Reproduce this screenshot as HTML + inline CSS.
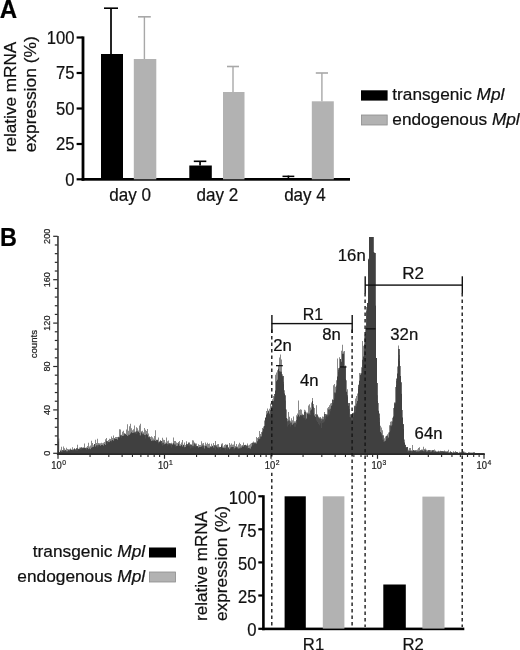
<!DOCTYPE html>
<html><head><meta charset="utf-8"><title>Figure</title>
<style>
html,body{margin:0;padding:0;background:#fff;}
body{width:520px;height:650px;overflow:hidden;font-family:"Liberation Sans",sans-serif;}
svg{display:block;will-change:transform;transform:translateZ(0);}
</style></head><body>
<svg width="520" height="650" viewBox="0 0 520 650" font-family="Liberation Sans, sans-serif" fill="#111">
<rect width="520" height="650" fill="#fff"/>
<text transform="translate(-0.2,18) scale(0.94,1)" font-size="25.6" text-anchor="start" fill="#000" stroke="#000" stroke-width="0.22" font-weight="bold">A</text>
<g fill="#000">
<rect x="81.6" y="36.4" width="2.8" height="144.3"/>
<rect x="81.6" y="178" width="268.4" height="2.7"/>
<rect x="76.6" y="36.4" width="6" height="2.2"/>
<rect x="76.6" y="71.9" width="6" height="2.2"/>
<rect x="76.6" y="107.4" width="6" height="2.2"/>
<rect x="76.6" y="142.9" width="6" height="2.2"/>
<rect x="76.6" y="178.20000000000002" width="6" height="2.2"/>
</g>
<text transform="translate(74.4,43.8) scale(0.925,1)" font-size="18" text-anchor="end" fill="#111" stroke="#111" stroke-width="0.22" >100</text>
<text transform="translate(74.4,79.3) scale(0.925,1)" font-size="18" text-anchor="end" fill="#111" stroke="#111" stroke-width="0.22" >75</text>
<text transform="translate(74.4,114.8) scale(0.925,1)" font-size="18" text-anchor="end" fill="#111" stroke="#111" stroke-width="0.22" >50</text>
<text transform="translate(74.4,150.3) scale(0.925,1)" font-size="18" text-anchor="end" fill="#111" stroke="#111" stroke-width="0.22" >25</text>
<text transform="translate(74.4,185.70000000000002) scale(0.925,1)" font-size="18" text-anchor="end" fill="#111" stroke="#111" stroke-width="0.22" >0</text>
<text transform="translate(16.2,152.3) rotate(-90) scale(0.987,1)" font-size="17.4" text-anchor="start" fill="#111" stroke="#111" stroke-width="0.22" >relative mRNA</text>
<text transform="translate(36.2,152.3) rotate(-90)" font-size="17.4" text-anchor="start" fill="#111" stroke="#111" stroke-width="0.22" >expression (%)</text>
<rect x="101" y="54" width="22" height="125.30000000000001" fill="#000"/>
<rect x="110.15" y="8.2" width="1.7" height="45.8" fill="#000"/>
<rect x="104" y="7.3999999999999995" width="14" height="1.6" fill="#000"/>
<rect x="133.8" y="59" width="22.5" height="120.30000000000001" fill="#b2b2b2"/>
<rect x="143.70000000000002" y="16.8" width="1.4" height="42.2" fill="#a8a8a8"/>
<rect x="138" y="16.0" width="12.800000000000011" height="1.6" fill="#a8a8a8"/>
<rect x="189.3" y="165.5" width="22.5" height="13.800000000000011" fill="#000"/>
<rect x="199.20000000000002" y="161.3" width="1.7" height="4.199999999999989" fill="#000"/>
<rect x="193.8" y="160.5" width="12.5" height="1.6" fill="#000"/>
<rect x="223" y="92" width="21.5" height="87.30000000000001" fill="#b2b2b2"/>
<rect x="232.3" y="66.5" width="1.4" height="25.5" fill="#a8a8a8"/>
<rect x="227" y="65.7" width="12" height="1.6" fill="#a8a8a8"/>
<rect x="311.8" y="101.3" width="22.0" height="78.00000000000001" fill="#b2b2b2"/>
<rect x="321.2" y="73" width="1.4" height="28.299999999999997" fill="#a8a8a8"/>
<rect x="315.8" y="72.2" width="12.199999999999989" height="1.6" fill="#a8a8a8"/>
<rect x="282.5" y="175.6" width="11.8" height="1.5" fill="#000"/>
<rect x="287.6" y="175.6" width="1.6" height="3" fill="#000"/>
<text transform="translate(130.1,200.8) scale(0.975,1)" font-size="17.5" text-anchor="middle" fill="#111" stroke="#111" stroke-width="0.22" >day 0</text>
<text transform="translate(217.3,200.8) scale(0.975,1)" font-size="17.5" text-anchor="middle" fill="#111" stroke="#111" stroke-width="0.22" >day 2</text>
<text transform="translate(305,200.8) scale(0.975,1)" font-size="17.5" text-anchor="middle" fill="#111" stroke="#111" stroke-width="0.22" >day 4</text>
<rect x="361" y="90.3" width="26.6" height="10.3" fill="#000"/>
<rect x="361.4" y="115" width="25.8" height="10" fill="#b2b2b2" stroke="#8c8c8c" stroke-width="0.8"/>
<text transform="translate(392.3,99.9) scale(1.045,1)" font-size="16.5" text-anchor="start" fill="#111" stroke="#111" stroke-width="0.22" >transgenic <tspan font-style="italic">Mpl</tspan></text>
<text transform="translate(392.3,124.9) scale(1.045,1)" font-size="16.5" text-anchor="start" fill="#111" stroke="#111" stroke-width="0.22" >endogenous <tspan font-style="italic">Mpl</tspan></text>
<text transform="translate(0.0,245.6) scale(0.9,1)" font-size="26" text-anchor="start" fill="#000" stroke="#000" stroke-width="0.22" font-weight="bold">B</text>
<path d="M58,454.0 L58.0,441.5L59.0,441.5 L59.0,452.5L60.0,452.5 L60.0,449.7L61.0,449.7 L61.0,446.7L62.0,446.7 L62.0,450.1L63.0,450.1 L63.0,446.4L64.0,446.4 L64.0,448.3L65.0,448.3 L65.0,449.8L66.0,449.8 L66.0,447.7L67.0,447.7 L67.0,449.1L68.0,449.1 L68.0,449.2L69.0,449.2 L69.0,449.3L70.0,449.3 L70.0,448.4L71.0,448.4 L71.0,449.4L72.0,449.4 L72.0,447.3L73.0,447.3 L73.0,448.9L74.0,448.9 L74.0,448.2L75.0,448.2 L75.0,449.3L76.0,449.3 L76.0,448.4L77.0,448.4 L77.0,444.7L78.0,444.7 L78.0,448.8L79.0,448.8 L79.0,447.5L80.0,447.5 L80.0,448.2L81.0,448.2 L81.0,447.3L82.0,447.3 L82.0,447.4L83.0,447.4 L83.0,447.3L84.0,447.3 L84.0,443.5L85.0,443.5 L85.0,447.7L86.0,447.7 L86.0,447.2L87.0,447.2 L87.0,445.9L88.0,445.9 L88.0,442.7L89.0,442.7 L89.0,446.6L90.0,446.6 L90.0,445.5L91.0,445.5 L91.0,440.8L92.0,440.8 L92.0,442.9L93.0,442.9 L93.0,445.2L94.0,445.2 L94.0,444.2L95.0,444.2 L95.0,439.8L96.0,439.8 L96.0,442.9L97.0,442.9 L97.0,438.8L98.0,438.8 L98.0,443.1L99.0,443.1 L99.0,443.2L100.0,443.2 L100.0,443.3L101.0,443.3 L101.0,442.8L102.0,442.8 L102.0,443.2L103.0,443.2 L103.0,442.7L104.0,442.7 L104.0,442.1L105.0,442.1 L105.0,439.2L106.0,439.2 L106.0,438.0L107.0,438.0 L107.0,441.9L108.0,441.9 L108.0,440.1L109.0,440.1 L109.0,438.7L110.0,438.7 L110.0,439.0L111.0,439.0 L111.0,436.6L112.0,436.6 L112.0,438.0L113.0,438.0 L113.0,435.5L114.0,435.5 L114.0,438.2L115.0,438.2 L115.0,436.9L116.0,436.9 L116.0,436.9L117.0,436.9 L117.0,437.1L118.0,437.1 L118.0,436.8L119.0,436.8 L119.0,429.3L120.0,429.3 L120.0,429.4L121.0,429.4 L121.0,434.7L122.0,434.7 L122.0,431.7L123.0,431.7 L123.0,430.8L124.0,430.8 L124.0,432.9L125.0,432.9 L125.0,433.7L126.0,433.7 L126.0,429.4L127.0,429.4 L127.0,424.2L128.0,424.2 L128.0,430.7L129.0,430.7 L129.0,426.2L130.0,426.2 L130.0,423.8L131.0,423.8 L131.0,428.3L132.0,428.3 L132.0,430.3L133.0,430.3 L133.0,429.3L134.0,429.3 L134.0,425.6L135.0,425.6 L135.0,431.4L136.0,431.4 L136.0,427.2L137.0,427.2 L137.0,428.3L138.0,428.3 L138.0,430.4L139.0,430.4 L139.0,425.4L140.0,425.4 L140.0,423.8L141.0,423.8 L141.0,431.2L142.0,431.2 L142.0,430.7L143.0,430.7 L143.0,432.2L144.0,432.2 L144.0,428.1L145.0,428.1 L145.0,429.7L146.0,429.7 L146.0,431.1L147.0,431.1 L147.0,429.1L148.0,429.1 L148.0,433.6L149.0,433.6 L149.0,436.3L150.0,436.3 L150.0,436.9L151.0,436.9 L151.0,436.3L152.0,436.3 L152.0,437.2L153.0,437.2 L153.0,438.5L154.0,438.5 L154.0,435.9L155.0,435.9 L155.0,430.3L156.0,430.3 L156.0,440.2L157.0,440.2 L157.0,440.1L158.0,440.1 L158.0,437.4L159.0,437.4 L159.0,441.3L160.0,441.3 L160.0,440.0L161.0,440.0 L161.0,440.9L162.0,440.9 L162.0,437.8L163.0,437.8 L163.0,439.7L164.0,439.7 L164.0,440.1L165.0,440.1 L165.0,442.4L166.0,442.4 L166.0,437.4L167.0,437.4 L167.0,441.3L168.0,441.3 L168.0,440.4L169.0,440.4 L169.0,443.1L170.0,443.1 L170.0,443.1L171.0,443.1 L171.0,442.8L172.0,442.8 L172.0,443.4L173.0,443.4 L173.0,437.6L174.0,437.6 L174.0,441.1L175.0,441.1 L175.0,441.1L176.0,441.1 L176.0,442.4L177.0,442.4 L177.0,443.0L178.0,443.0 L178.0,441.9L179.0,441.9 L179.0,441.0L180.0,441.0 L180.0,444.3L181.0,444.3 L181.0,442.4L182.0,442.4 L182.0,440.1L183.0,440.1 L183.0,445.3L184.0,445.3 L184.0,442.5L185.0,442.5 L185.0,445.0L186.0,445.0 L186.0,441.3L187.0,441.3 L187.0,445.2L188.0,445.2 L188.0,443.4L189.0,443.4 L189.0,445.3L190.0,445.3 L190.0,444.4L191.0,444.4 L191.0,444.9L192.0,444.9 L192.0,440.3L193.0,440.3 L193.0,440.5L194.0,440.5 L194.0,442.4L195.0,442.4 L195.0,445.0L196.0,445.0 L196.0,443.6L197.0,443.6 L197.0,446.0L198.0,446.0 L198.0,444.3L199.0,444.3 L199.0,445.0L200.0,445.0 L200.0,445.1L201.0,445.1 L201.0,441.3L202.0,441.3 L202.0,443.4L203.0,443.4 L203.0,442.9L204.0,442.9 L204.0,445.6L205.0,445.6 L205.0,442.5L206.0,442.5 L206.0,444.2L207.0,444.2 L207.0,442.8L208.0,442.8 L208.0,443.9L209.0,443.9 L209.0,443.5L210.0,443.5 L210.0,445.9L211.0,445.9 L211.0,443.7L212.0,443.7 L212.0,446.0L213.0,446.0 L213.0,442.9L214.0,442.9 L214.0,445.0L215.0,445.0 L215.0,441.0L216.0,441.0 L216.0,444.9L217.0,444.9 L217.0,444.3L218.0,444.3 L218.0,444.0L219.0,444.0 L219.0,446.8L220.0,446.8 L220.0,447.1L221.0,447.1 L221.0,443.8L222.0,443.8 L222.0,443.2L223.0,443.2 L223.0,446.4L224.0,446.4 L224.0,445.1L225.0,445.1 L225.0,444.3L226.0,444.3 L226.0,445.6L227.0,445.6 L227.0,444.7L228.0,444.7 L228.0,447.0L229.0,447.0 L229.0,443.0L230.0,443.0 L230.0,444.7L231.0,444.7 L231.0,443.6L232.0,443.6 L232.0,444.8L233.0,444.8 L233.0,444.5L234.0,444.5 L234.0,441.3L235.0,441.3 L235.0,446.1L236.0,446.1 L236.0,444.0L237.0,444.0 L237.0,446.5L238.0,446.5 L238.0,444.4L239.0,444.4 L239.0,442.7L240.0,442.7 L240.0,444.0L241.0,444.0 L241.0,445.4L242.0,445.4 L242.0,444.9L243.0,444.9 L243.0,442.6L244.0,442.6 L244.0,445.9L245.0,445.9 L245.0,444.7L246.0,444.7 L246.0,445.8L247.0,445.8 L247.0,443.5L248.0,443.5 L248.0,445.5L249.0,445.5 L249.0,444.8L250.0,444.8 L250.0,443.8L251.0,443.8 L251.0,443.0L252.0,443.0 L252.0,442.7L253.0,442.7 L253.0,441.4L254.0,441.4 L254.0,442.4L255.0,442.4 L255.0,442.6L256.0,442.6 L256.0,437.1L257.0,437.1 L257.0,438.0L258.0,438.0 L258.0,437.1L259.0,437.1 L259.0,431.0L260.0,431.0 L260.0,433.9L261.0,433.9 L261.0,431.9L262.0,431.9 L262.0,428.0L263.0,428.0 L263.0,426.4L264.0,426.4 L264.0,420.5L265.0,420.5 L265.0,417.2L266.0,417.2 L266.0,411.1L267.0,411.1 L267.0,408.6L268.0,408.6 L268.0,410.5L269.0,410.5 L269.0,408.8L270.0,408.8 L270.0,403.4L271.0,403.4 L271.0,405.9L272.0,405.9 L272.0,399.3L273.0,399.3 L273.0,396.1L274.0,396.1 L274.0,396.5L275.0,396.5 L275.0,374.7L276.0,374.7 L276.0,372.4L277.0,372.4 L277.0,370.2L278.0,370.2 L278.0,365.5L279.0,365.5 L279.0,357.4L280.0,357.4 L280.0,354.5L281.0,354.5 L281.0,359.5L282.0,359.5 L282.0,374.2L283.0,374.2 L283.0,381.8L284.0,381.8 L284.0,390.3L285.0,390.3 L285.0,400.6L286.0,400.6 L286.0,409.4L287.0,409.4 L287.0,418.7L288.0,418.7 L288.0,412.0L289.0,412.0 L289.0,416.8L290.0,416.8 L290.0,420.7L291.0,420.7 L291.0,418.3L292.0,418.3 L292.0,420.3L293.0,420.3 L293.0,416.6L294.0,416.6 L294.0,421.2L295.0,421.2 L295.0,421.2L296.0,421.2 L296.0,415.2L297.0,415.2 L297.0,413.4L298.0,413.4 L298.0,400.5L299.0,400.5 L299.0,409.9L300.0,409.9 L300.0,409.2L301.0,409.2 L301.0,409.8L302.0,409.8 L302.0,413.8L303.0,413.8 L303.0,414.7L304.0,414.7 L304.0,409.7L305.0,409.7 L305.0,410.5L306.0,410.5 L306.0,412.4L307.0,412.4 L307.0,412.4L308.0,412.4 L308.0,405.6L309.0,405.6 L309.0,404.2L310.0,404.2 L310.0,407.6L311.0,407.6 L311.0,402.5L312.0,402.5 L312.0,398.1L313.0,398.1 L313.0,404.0L314.0,404.0 L314.0,408.1L315.0,408.1 L315.0,414.1L316.0,414.1 L316.0,405.3L317.0,405.3 L317.0,415.5L318.0,415.5 L318.0,416.5L319.0,416.5 L319.0,418.9L320.0,418.9 L320.0,416.9L321.0,416.9 L321.0,420.8L322.0,420.8 L322.0,416.5L323.0,416.5 L323.0,416.8L324.0,416.8 L324.0,412.0L325.0,412.0 L325.0,416.3L326.0,416.3 L326.0,414.4L327.0,414.4 L327.0,408.3L328.0,408.3 L328.0,407.0L329.0,407.0 L329.0,405.3L330.0,405.3 L330.0,403.6L331.0,403.6 L331.0,403.1L332.0,403.1 L332.0,399.2L333.0,399.2 L333.0,385.2L334.0,385.2 L334.0,384.0L335.0,384.0 L335.0,386.8L336.0,386.8 L336.0,380.2L337.0,380.2 L337.0,358.4L338.0,358.4 L338.0,368.0L339.0,368.0 L339.0,357.2L340.0,357.2 L340.0,358.9L341.0,358.9 L341.0,350.8L342.0,350.8 L342.0,344.8L343.0,344.8 L343.0,351.5L344.0,351.5 L344.0,351.1L345.0,351.1 L345.0,365.5L346.0,365.5 L346.0,380.2L347.0,380.2 L347.0,389.3L348.0,389.3 L348.0,405.8L349.0,405.8 L349.0,409.1L350.0,409.1 L350.0,417.0L351.0,417.0 L351.0,415.6L352.0,415.6 L352.0,413.1L353.0,413.1 L353.0,412.4L354.0,412.4 L354.0,407.3L355.0,407.3 L355.0,398.5L356.0,398.5 L356.0,395.9L357.0,395.9 L357.0,393.5L358.0,393.5 L358.0,386.7L359.0,386.7 L359.0,372.9L360.0,372.9 L360.0,373.2L361.0,373.2 L361.0,367.2L362.0,367.2 L362.0,340.9L363.0,340.9 L363.0,345.7L364.0,345.7 L364.0,334.8L365.0,334.8 L365.0,328.6L366.0,328.6 L366.0,307.1L367.0,307.1 L367.0,303.0L368.0,303.0 L368.0,259.9L369.0,259.9 L369.0,237.0L370.0,237.0 L370.0,237.0L371.0,237.0 L371.0,237.0L372.0,237.0 L372.0,237.0L373.0,237.0 L373.0,252.1L374.0,252.1 L374.0,252.7L375.0,252.7 L375.0,305.7L376.0,305.7 L376.0,358.0L377.0,358.0 L377.0,395.2L378.0,395.2 L378.0,403.1L379.0,403.1 L379.0,417.8L380.0,417.8 L380.0,425.8L381.0,425.8 L381.0,427.5L382.0,427.5 L382.0,430.2L383.0,430.2 L383.0,439.6L384.0,439.6 L384.0,438.2L385.0,438.2 L385.0,436.6L386.0,436.6 L386.0,436.1L387.0,436.1 L387.0,434.2L388.0,434.2 L388.0,432.5L389.0,432.5 L389.0,425.3L390.0,425.3 L390.0,421.8L391.0,421.8 L391.0,421.3L392.0,421.3 L392.0,417.8L393.0,417.8 L393.0,408.1L394.0,408.1 L394.0,403.7L395.0,403.7 L395.0,386.9L396.0,386.9 L396.0,381.0L397.0,381.0 L397.0,366.4L398.0,366.4 L398.0,345.4L399.0,345.4 L399.0,355.0L400.0,355.0 L400.0,366.1L401.0,366.1 L401.0,393.7L402.0,393.7 L402.0,409.9L403.0,409.9 L403.0,424.7L404.0,424.7 L404.0,439.5L405.0,439.5 L405.0,444.7L406.0,444.7 L406.0,447.4L407.0,447.4 L407.0,447.0L408.0,447.0 L408.0,449.8L409.0,449.8 L409.0,448.1L410.0,448.1 L410.0,448.0L411.0,448.0 L411.0,450.2L412.0,450.2 L412.0,444.9L413.0,444.9 L413.0,449.9L414.0,449.9 L414.0,450.5L415.0,450.5 L415.0,450.1L416.0,450.1 L416.0,449.9L417.0,449.9 L417.0,449.6L418.0,449.6 L418.0,448.0L419.0,448.0 L419.0,447.2L420.0,447.2 L420.0,450.3L421.0,450.3 L421.0,449.6L422.0,449.6 L422.0,449.5L423.0,449.5 L423.0,446.8L424.0,446.8 L424.0,449.0L425.0,449.0 L425.0,448.6L426.0,448.6 L426.0,449.7L427.0,449.7 L427.0,450.2L428.0,450.2 L428.0,450.5L429.0,450.5 L429.0,450.6L430.0,450.6 L430.0,449.9L431.0,449.9 L431.0,450.3L432.0,450.3 L432.0,450.9L433.0,450.9 L433.0,451.2L434.0,451.2 L434.0,449.5L435.0,449.5 L435.0,450.6L436.0,450.6 L436.0,451.2L437.0,451.2 L437.0,451.3L438.0,451.3 L438.0,450.8L439.0,450.8 L439.0,451.4L440.0,451.4 L440.0,450.7L441.0,450.7 L441.0,451.1L442.0,451.1 L442.0,450.9L443.0,450.9 L443.0,451.6L444.0,451.6 L444.0,450.4L445.0,450.4 L445.0,451.6L446.0,451.6 L446.0,451.3L447.0,451.3 L447.0,451.0L448.0,451.0 L448.0,449.8L449.0,449.8 L449.0,452.3L450.0,452.3 L450.0,451.0L451.0,451.0 L451.0,452.0L452.0,452.0 L452.0,452.4L453.0,452.4 L453.0,451.2L454.0,451.2 L454.0,452.6L455.0,452.6 L455.0,450.9L456.0,450.9 L456.0,452.1L457.0,452.1 L457.0,452.7L458.0,452.7 L458.0,452.7L459.0,452.7 L459.0,451.8L460.0,451.8 L460.0,452.8L461.0,452.8 L461.0,452.3L462.0,452.3 L462.0,452.6L463.0,452.6 L463.0,451.6L464.0,451.6 L464.0,451.8L465.0,451.8 L465.0,452.3L466.0,452.3 L466.0,452.7L467.0,452.7 L467.0,452.9L468.0,452.9 L468.0,452.6L469.0,452.6 L469.0,452.8L470.0,452.8 L470.0,452.5L471.0,452.5 L471.0,452.6L472.0,452.6 L472.0,452.6L473.0,452.6 L473.0,452.0L474.0,452.0 L474.0,452.1L475.0,452.1 L475.0,453.2L476.0,453.2 L476.0,453.2L477.0,453.2 L477.0,453.3L478.0,453.3 L478.0,453.3L479.0,453.3 L479.0,453.3L480.0,453.3 L480.0,453.4L481.0,453.4 L481.0,453.4L482.0,453.4 L482.0,453.4L483.0,453.4 L483.0,453.5L484.0,453.5 L484.0,454.0L485.0,454.0 L484.5,454.0Z" fill="#404040" opacity="0.62"/>
<rect x="58.4" y="438.5" width="0.9" height="15" fill="#404040" opacity="0.6"/>
<path d="M58,454.0 L58.0,452.0L60.0,452.0 L60.0,452.0L62.0,452.0 L62.0,450.3L64.0,450.3 L64.0,450.8L66.0,450.8 L66.0,451.3L68.0,451.3 L68.0,450.8L70.0,450.8 L70.0,450.6L72.0,450.6 L72.0,450.0L74.0,450.0 L74.0,449.4L76.0,449.4 L76.0,448.3L78.0,448.3 L78.0,448.9L80.0,448.9 L80.0,447.5L82.0,447.5 L82.0,448.0L84.0,448.0 L84.0,448.2L86.0,448.2 L86.0,448.3L88.0,448.3 L88.0,449.0L90.0,449.0 L90.0,449.5L92.0,449.5 L92.0,446.9L94.0,446.9 L94.0,446.5L96.0,446.5 L96.0,445.3L98.0,445.3 L98.0,444.8L100.0,444.8 L100.0,446.8L102.0,446.8 L102.0,445.5L104.0,445.5 L104.0,445.7L106.0,445.7 L106.0,441.1L108.0,441.1 L108.0,442.1L110.0,442.1 L110.0,440.7L112.0,440.7 L112.0,441.8L114.0,441.8 L114.0,441.6L116.0,441.6 L116.0,439.4L118.0,439.4 L118.0,437.6L120.0,437.6 L120.0,435.5L122.0,435.5 L122.0,439.0L124.0,439.0 L124.0,434.0L126.0,434.0 L126.0,436.2L128.0,436.2 L128.0,434.8L130.0,434.8 L130.0,434.1L132.0,434.1 L132.0,434.3L134.0,434.3 L134.0,432.3L136.0,432.3 L136.0,431.3L138.0,431.3 L138.0,432.9L140.0,432.9 L140.0,435.3L142.0,435.3 L142.0,433.8L144.0,433.8 L144.0,434.9L146.0,434.9 L146.0,434.8L148.0,434.8 L148.0,437.1L150.0,437.1 L150.0,442.1L152.0,442.1 L152.0,441.4L154.0,441.4 L154.0,441.7L156.0,441.7 L156.0,439.8L158.0,439.8 L158.0,442.3L160.0,442.3 L160.0,441.1L162.0,441.1 L162.0,442.7L164.0,442.7 L164.0,445.8L166.0,445.8 L166.0,444.0L168.0,444.0 L168.0,443.4L170.0,443.4 L170.0,443.9L172.0,443.9 L172.0,447.2L174.0,447.2 L174.0,444.4L176.0,444.4 L176.0,446.2L178.0,446.2 L178.0,448.8L180.0,448.8 L180.0,446.6L182.0,446.6 L182.0,448.8L184.0,448.8 L184.0,447.8L186.0,447.8 L186.0,443.9L188.0,443.9 L188.0,442.5L190.0,442.5 L190.0,444.6L192.0,444.6 L192.0,445.7L194.0,445.7 L194.0,443.6L196.0,443.6 L196.0,446.0L198.0,446.0 L198.0,448.0L200.0,448.0 L200.0,450.2L202.0,450.2 L202.0,445.4L204.0,445.4 L204.0,450.0L206.0,450.0 L206.0,450.9L208.0,450.9 L208.0,447.8L210.0,447.8 L210.0,446.9L212.0,446.9 L212.0,448.2L214.0,448.2 L214.0,445.6L216.0,445.6 L216.0,447.4L218.0,447.4 L218.0,447.2L220.0,447.2 L220.0,447.0L222.0,447.0 L222.0,448.6L224.0,448.6 L224.0,447.7L226.0,447.7 L226.0,444.8L228.0,444.8 L228.0,449.1L230.0,449.1 L230.0,447.5L232.0,447.5 L232.0,446.9L234.0,446.9 L234.0,448.3L236.0,448.3 L236.0,447.4L238.0,447.4 L238.0,449.6L240.0,449.6 L240.0,447.6L242.0,447.6 L242.0,446.7L244.0,446.7 L244.0,445.0L246.0,445.0 L246.0,445.6L248.0,445.6 L248.0,448.1L250.0,448.1 L250.0,448.5L252.0,448.5 L252.0,442.8L254.0,442.8 L254.0,442.8L256.0,442.8 L256.0,444.8L258.0,444.8 L258.0,438.8L260.0,438.8 L260.0,436.6L262.0,436.6 L262.0,431.4L264.0,431.4 L264.0,426.9L266.0,426.9 L266.0,414.7L268.0,414.7 L268.0,413.5L270.0,413.5 L270.0,410.1L272.0,410.1 L272.0,401.0L274.0,401.0 L274.0,394.1L276.0,394.1 L276.0,381.3L278.0,381.3 L278.0,375.3L280.0,375.3 L280.0,371.7L282.0,371.7 L282.0,375.9L284.0,375.9 L284.0,395.3L286.0,395.3 L286.0,421.2L288.0,421.2 L288.0,420.4L290.0,420.4 L290.0,422.6L292.0,422.6 L292.0,425.6L294.0,425.6 L294.0,422.8L296.0,422.8 L296.0,420.1L298.0,420.1 L298.0,418.6L300.0,418.6 L300.0,415.4L302.0,415.4 L302.0,415.0L304.0,415.0 L304.0,411.9L306.0,411.9 L306.0,418.9L308.0,418.9 L308.0,413.5L310.0,413.5 L310.0,410.4L312.0,410.4 L312.0,406.8L314.0,406.8 L314.0,419.2L316.0,419.2 L316.0,414.6L318.0,414.6 L318.0,417.6L320.0,417.6 L320.0,418.5L322.0,418.5 L322.0,419.3L324.0,419.3 L324.0,413.9L326.0,413.9 L326.0,414.6L328.0,414.6 L328.0,409.4L330.0,409.4 L330.0,408.8L332.0,408.8 L332.0,399.9L334.0,399.9 L334.0,392.6L336.0,392.6 L336.0,385.4L338.0,385.4 L338.0,369.4L340.0,369.4 L340.0,364.7L342.0,364.7 L342.0,359.4L344.0,359.4 L344.0,366.9L346.0,366.9 L346.0,395.2L348.0,395.2 L348.0,403.0L350.0,403.0 L350.0,414.2L352.0,414.2 L352.0,413.2L354.0,413.2 L354.0,405.8L356.0,405.8 L356.0,403.4L358.0,403.4 L358.0,384.8L360.0,384.8 L360.0,381.7L362.0,381.7 L362.0,359.8L364.0,359.8 L364.0,344.2L366.0,344.2 L366.0,311.3L368.0,311.3 L368.0,258.8L370.0,258.8 L370.0,237.0L372.0,237.0 L372.0,237.0L374.0,237.0 L374.0,253.0L376.0,253.0 L376.0,383.0L378.0,383.0 L378.0,413.6L380.0,413.6 L380.0,433.3L382.0,433.3 L382.0,435.3L384.0,435.3 L384.0,441.3L386.0,441.3 L386.0,435.7L388.0,435.7 L388.0,438.0L390.0,438.0 L390.0,425.5L392.0,425.5 L392.0,421.5L394.0,421.5 L394.0,402.4L396.0,402.4 L396.0,378.5L398.0,378.5 L398.0,349.0L400.0,349.0 L400.0,382.2L402.0,382.2 L402.0,423.9L404.0,423.9 L404.0,445.1L406.0,445.1 L406.0,447.1L408.0,447.1 L408.0,451.3L410.0,451.3 L410.0,450.9L412.0,450.9 L412.0,451.4L414.0,451.4 L414.0,450.8L416.0,450.8 L416.0,451.8L418.0,451.8 L418.0,451.3L420.0,451.3 L420.0,450.3L422.0,450.3 L422.0,451.3L424.0,451.3 L424.0,450.3L426.0,450.3 L426.0,451.5L428.0,451.5 L428.0,449.9L430.0,449.9 L430.0,451.5L432.0,451.5 L432.0,450.1L434.0,450.1 L434.0,451.5L436.0,451.5 L436.0,452.1L438.0,452.1 L438.0,451.4L440.0,451.4 L440.0,451.3L442.0,451.3 L442.0,451.2L444.0,451.2 L444.0,451.4L446.0,451.4 L446.0,451.9L448.0,451.9 L448.0,453.3L450.0,453.3 L450.0,452.1L452.0,452.1 L452.0,452.8L454.0,452.8 L454.0,452.6L456.0,452.6 L456.0,452.1L458.0,452.1 L458.0,453.3L460.0,453.3 L460.0,452.3L462.0,452.3 L462.0,451.8L464.0,451.8 L464.0,452.9L466.0,452.9 L466.0,453.3L468.0,453.3 L468.0,452.6L470.0,452.6 L470.0,453.3L472.0,453.3 L472.0,452.9L474.0,452.9 L474.0,452.9L476.0,452.9 L476.0,453.2L478.0,453.2 L478.0,453.3L480.0,453.3 L480.0,453.4L482.0,453.4 L482.0,453.5L484.0,453.5 L484.0,454.0L486.0,454.0 L484.5,454.0Z" fill="#404040" opacity="0.8"/>
<path d="M58,454.0 L58.0,451.0L59.0,451.0 L59.0,452.5L60.0,452.5 L60.0,450.9L61.0,450.9 L61.0,451.6L62.0,451.6 L62.0,452.0L63.0,452.0 L63.0,451.1L64.0,451.1 L64.0,450.7L65.0,450.7 L65.0,450.3L66.0,450.3 L66.0,451.7L67.0,451.7 L67.0,451.7L68.0,451.7 L68.0,450.3L69.0,450.3 L69.0,450.4L70.0,450.4 L70.0,449.6L71.0,449.6 L71.0,449.9L72.0,449.9 L72.0,450.6L73.0,450.6 L73.0,450.6L74.0,450.6 L74.0,448.7L75.0,448.7 L75.0,450.5L76.0,450.5 L76.0,450.7L77.0,450.7 L77.0,450.8L78.0,450.8 L78.0,449.8L79.0,449.8 L79.0,449.6L80.0,449.6 L80.0,449.8L81.0,449.8 L81.0,449.4L82.0,449.4 L82.0,449.0L83.0,449.0 L83.0,448.6L84.0,448.6 L84.0,448.1L85.0,448.1 L85.0,448.6L86.0,448.6 L86.0,450.1L87.0,450.1 L87.0,448.0L88.0,448.0 L88.0,449.5L89.0,449.5 L89.0,448.4L90.0,448.4 L90.0,449.2L91.0,449.2 L91.0,447.8L92.0,447.8 L92.0,448.2L93.0,448.2 L93.0,447.1L94.0,447.1 L94.0,444.1L95.0,444.1 L95.0,446.9L96.0,446.9 L96.0,445.8L97.0,445.8 L97.0,447.6L98.0,447.6 L98.0,446.4L99.0,446.4 L99.0,445.2L100.0,445.2 L100.0,445.7L101.0,445.7 L101.0,445.0L102.0,445.0 L102.0,445.0L103.0,445.0 L103.0,445.9L104.0,445.9 L104.0,444.1L105.0,444.1 L105.0,445.1L106.0,445.1 L106.0,441.9L107.0,441.9 L107.0,443.9L108.0,443.9 L108.0,442.2L109.0,442.2 L109.0,442.5L110.0,442.5 L110.0,440.9L111.0,440.9 L111.0,442.2L112.0,442.2 L112.0,439.9L113.0,439.9 L113.0,440.8L114.0,440.8 L114.0,438.6L115.0,438.6 L115.0,439.0L116.0,439.0 L116.0,439.1L117.0,439.1 L117.0,439.9L118.0,439.9 L118.0,437.5L119.0,437.5 L119.0,437.5L120.0,437.5 L120.0,435.5L121.0,435.5 L121.0,437.7L122.0,437.7 L122.0,436.1L123.0,436.1 L123.0,435.7L124.0,435.7 L124.0,435.6L125.0,435.6 L125.0,435.3L126.0,435.3 L126.0,435.1L127.0,435.1 L127.0,435.9L128.0,435.9 L128.0,436.2L129.0,436.2 L129.0,435.0L130.0,435.0 L130.0,433.5L131.0,433.5 L131.0,432.2L132.0,432.2 L132.0,433.0L133.0,433.0 L133.0,432.8L134.0,432.8 L134.0,433.2L135.0,433.2 L135.0,433.4L136.0,433.4 L136.0,434.1L137.0,434.1 L137.0,433.3L138.0,433.3 L138.0,432.1L139.0,432.1 L139.0,435.3L140.0,435.3 L140.0,436.0L141.0,436.0 L141.0,432.5L142.0,432.5 L142.0,435.2L143.0,435.2 L143.0,434.7L144.0,434.7 L144.0,435.3L145.0,435.3 L145.0,438.4L146.0,438.4 L146.0,434.2L147.0,434.2 L147.0,435.5L148.0,435.5 L148.0,438.1L149.0,438.1 L149.0,437.9L150.0,437.9 L150.0,439.3L151.0,439.3 L151.0,441.0L152.0,441.0 L152.0,440.6L153.0,440.6 L153.0,440.6L154.0,440.6 L154.0,440.2L155.0,440.2 L155.0,441.1L156.0,441.1 L156.0,442.1L157.0,442.1 L157.0,441.0L158.0,441.0 L158.0,443.6L159.0,443.6 L159.0,442.2L160.0,442.2 L160.0,442.1L161.0,442.1 L161.0,443.9L162.0,443.9 L162.0,445.7L163.0,445.7 L163.0,445.1L164.0,445.1 L164.0,444.2L165.0,444.2 L165.0,444.1L166.0,444.1 L166.0,443.2L167.0,443.2 L167.0,445.8L168.0,445.8 L168.0,445.0L169.0,445.0 L169.0,444.4L170.0,444.4 L170.0,445.4L171.0,445.4 L171.0,447.6L172.0,447.6 L172.0,444.7L173.0,444.7 L173.0,443.3L174.0,443.3 L174.0,444.7L175.0,444.7 L175.0,446.7L176.0,446.7 L176.0,446.3L177.0,446.3 L177.0,445.8L178.0,445.8 L178.0,443.8L179.0,443.8 L179.0,445.7L180.0,445.7 L180.0,446.3L181.0,446.3 L181.0,445.0L182.0,445.0 L182.0,446.5L183.0,446.5 L183.0,444.8L184.0,444.8 L184.0,447.2L185.0,447.2 L185.0,447.0L186.0,447.0 L186.0,446.0L187.0,446.0 L187.0,445.4L188.0,445.4 L188.0,446.1L189.0,446.1 L189.0,446.5L190.0,446.5 L190.0,448.5L191.0,448.5 L191.0,447.5L192.0,447.5 L192.0,447.5L193.0,447.5 L193.0,447.4L194.0,447.4 L194.0,446.5L195.0,446.5 L195.0,447.3L196.0,447.3 L196.0,446.4L197.0,446.4 L197.0,447.1L198.0,447.1 L198.0,447.5L199.0,447.5 L199.0,447.1L200.0,447.1 L200.0,446.9L201.0,446.9 L201.0,446.5L202.0,446.5 L202.0,447.7L203.0,447.7 L203.0,447.6L204.0,447.6 L204.0,448.6L205.0,448.6 L205.0,446.0L206.0,446.0 L206.0,446.2L207.0,446.2 L207.0,447.6L208.0,447.6 L208.0,447.9L209.0,447.9 L209.0,448.6L210.0,448.6 L210.0,447.4L211.0,447.4 L211.0,447.4L212.0,447.4 L212.0,445.8L213.0,445.8 L213.0,447.4L214.0,447.4 L214.0,448.3L215.0,448.3 L215.0,449.8L216.0,449.8 L216.0,446.6L217.0,446.6 L217.0,447.8L218.0,447.8 L218.0,449.3L219.0,449.3 L219.0,447.9L220.0,447.9 L220.0,449.5L221.0,449.5 L221.0,445.4L222.0,445.4 L222.0,447.5L223.0,447.5 L223.0,448.0L224.0,448.0 L224.0,448.7L225.0,448.7 L225.0,450.3L226.0,450.3 L226.0,448.6L227.0,448.6 L227.0,449.7L228.0,449.7 L228.0,448.0L229.0,448.0 L229.0,450.1L230.0,450.1 L230.0,449.1L231.0,449.1 L231.0,447.3L232.0,447.3 L232.0,446.9L233.0,446.9 L233.0,449.2L234.0,449.2 L234.0,449.4L235.0,449.4 L235.0,447.4L236.0,447.4 L236.0,447.3L237.0,447.3 L237.0,448.7L238.0,448.7 L238.0,448.4L239.0,448.4 L239.0,448.3L240.0,448.3 L240.0,448.7L241.0,448.7 L241.0,448.1L242.0,448.1 L242.0,446.4L243.0,446.4 L243.0,446.8L244.0,446.8 L244.0,445.5L245.0,445.5 L245.0,447.4L246.0,447.4 L246.0,447.6L247.0,447.6 L247.0,448.5L248.0,448.5 L248.0,448.0L249.0,448.0 L249.0,449.1L250.0,449.1 L250.0,449.3L251.0,449.3 L251.0,446.6L252.0,446.6 L252.0,445.3L253.0,445.3 L253.0,445.2L254.0,445.2 L254.0,444.0L255.0,444.0 L255.0,444.0L256.0,444.0 L256.0,443.6L257.0,443.6 L257.0,441.2L258.0,441.2 L258.0,440.2L259.0,440.2 L259.0,439.6L260.0,439.6 L260.0,438.7L261.0,438.7 L261.0,436.8L262.0,436.8 L262.0,432.9L263.0,432.9 L263.0,428.8L264.0,428.8 L264.0,426.0L265.0,426.0 L265.0,418.0L266.0,418.0 L266.0,414.8L267.0,414.8 L267.0,413.3L268.0,413.3 L268.0,411.2L269.0,411.2 L269.0,414.6L270.0,414.6 L270.0,415.7L271.0,415.7 L271.0,408.4L272.0,408.4 L272.0,409.7L273.0,409.7 L273.0,401.5L274.0,401.5 L274.0,399.8L275.0,399.8 L275.0,390.4L276.0,390.4 L276.0,381.5L277.0,381.5 L277.0,379.7L278.0,379.7 L278.0,368.7L279.0,368.7 L279.0,371.3L280.0,371.3 L280.0,371.8L281.0,371.8 L281.0,374.3L282.0,374.3 L282.0,377.2L283.0,377.2 L283.0,384.3L284.0,384.3 L284.0,393.4L285.0,393.4 L285.0,409.0L286.0,409.0 L286.0,417.9L287.0,417.9 L287.0,426.6L288.0,426.6 L288.0,425.1L289.0,425.1 L289.0,424.0L290.0,424.0 L290.0,426.4L291.0,426.4 L291.0,424.7L292.0,424.7 L292.0,424.8L293.0,424.8 L293.0,423.5L294.0,423.5 L294.0,426.7L295.0,426.7 L295.0,426.8L296.0,426.8 L296.0,424.2L297.0,424.2 L297.0,416.5L298.0,416.5 L298.0,414.7L299.0,414.7 L299.0,416.5L300.0,416.5 L300.0,415.3L301.0,415.3 L301.0,415.4L302.0,415.4 L302.0,416.1L303.0,416.1 L303.0,417.8L304.0,417.8 L304.0,418.3L305.0,418.3 L305.0,419.8L306.0,419.8 L306.0,418.4L307.0,418.4 L307.0,413.7L308.0,413.7 L308.0,415.1L309.0,415.1 L309.0,415.2L310.0,415.2 L310.0,414.9L311.0,414.9 L311.0,409.5L312.0,409.5 L312.0,401.1L313.0,401.1 L313.0,412.8L314.0,412.8 L314.0,415.6L315.0,415.6 L315.0,417.1L316.0,417.1 L316.0,420.5L317.0,420.5 L317.0,422.1L318.0,422.1 L318.0,423.9L319.0,423.9 L319.0,425.3L320.0,425.3 L320.0,423.3L321.0,423.3 L321.0,428.0L322.0,428.0 L322.0,423.1L323.0,423.1 L323.0,422.6L324.0,422.6 L324.0,421.6L325.0,421.6 L325.0,419.2L326.0,419.2 L326.0,416.2L327.0,416.2 L327.0,416.8L328.0,416.8 L328.0,415.4L329.0,415.4 L329.0,414.6L330.0,414.6 L330.0,411.2L331.0,411.2 L331.0,405.7L332.0,405.7 L332.0,405.3L333.0,405.3 L333.0,402.8L334.0,402.8 L334.0,398.5L335.0,398.5 L335.0,393.6L336.0,393.6 L336.0,389.7L337.0,389.7 L337.0,376.6L338.0,376.6 L338.0,371.9L339.0,371.9 L339.0,367.8L340.0,367.8 L340.0,359.0L341.0,359.0 L341.0,361.7L342.0,361.7 L342.0,353.8L343.0,353.8 L343.0,353.7L344.0,353.7 L344.0,367.0L345.0,367.0 L345.0,379.0L346.0,379.0 L346.0,391.8L347.0,391.8 L347.0,397.3L348.0,397.3 L348.0,406.0L349.0,406.0 L349.0,417.0L350.0,417.0 L350.0,417.8L351.0,417.8 L351.0,422.9L352.0,422.9 L352.0,420.9L353.0,420.9 L353.0,417.1L354.0,417.1 L354.0,412.8L355.0,412.8 L355.0,412.2L356.0,412.2 L356.0,406.8L357.0,406.8 L357.0,400.9L358.0,400.9 L358.0,389.1L359.0,389.1 L359.0,380.7L360.0,380.7 L360.0,375.1L361.0,375.1 L361.0,373.3L362.0,373.3 L362.0,367.9L363.0,367.9 L363.0,356.4L364.0,356.4 L364.0,350.7L365.0,350.7 L365.0,334.1L366.0,334.1 L366.0,326.6L367.0,326.6 L367.0,303.0L368.0,303.0 L368.0,259.9L369.0,259.9 L369.0,237.0L370.0,237.0 L370.0,237.0L371.0,237.0 L371.0,237.0L372.0,237.0 L372.0,237.0L373.0,237.0 L373.0,252.1L374.0,252.1 L374.0,252.7L375.0,252.7 L375.0,305.7L376.0,305.7 L376.0,358.0L377.0,358.0 L377.0,401.0L378.0,401.0 L378.0,410.7L379.0,410.7 L379.0,422.1L380.0,422.1 L380.0,432.1L381.0,432.1 L381.0,435.6L382.0,435.6 L382.0,439.8L383.0,439.8 L383.0,441.9L384.0,441.9 L384.0,441.9L385.0,441.9 L385.0,440.8L386.0,440.8 L386.0,438.9L387.0,438.9 L387.0,438.6L388.0,438.6 L388.0,437.6L389.0,437.6 L389.0,432.3L390.0,432.3 L390.0,430.8L391.0,430.8 L391.0,426.4L392.0,426.4 L392.0,424.9L393.0,424.9 L393.0,416.5L394.0,416.5 L394.0,407.2L395.0,407.2 L395.0,403.8L396.0,403.8 L396.0,385.0L397.0,385.0 L397.0,373.6L398.0,373.6 L398.0,358.8L399.0,358.8 L399.0,360.9L400.0,360.9 L400.0,376.1L401.0,376.1 L401.0,394.0L402.0,394.0 L402.0,417.4L403.0,417.4 L403.0,429.1L404.0,429.1 L404.0,442.4L405.0,442.4 L405.0,447.6L406.0,447.6 L406.0,448.3L407.0,448.3 L407.0,451.7L408.0,451.7 L408.0,451.5L409.0,451.5 L409.0,450.8L410.0,450.8 L410.0,450.7L411.0,450.7 L411.0,452.5L412.0,452.5 L412.0,451.2L413.0,451.2 L413.0,450.3L414.0,450.3 L414.0,450.7L415.0,450.7 L415.0,451.5L416.0,451.5 L416.0,451.7L417.0,451.7 L417.0,451.5L418.0,451.5 L418.0,452.0L419.0,452.0 L419.0,451.5L420.0,451.5 L420.0,451.4L421.0,451.4 L421.0,451.4L422.0,451.4 L422.0,450.5L423.0,450.5 L423.0,451.4L424.0,451.4 L424.0,452.1L425.0,452.1 L425.0,450.6L426.0,450.6 L426.0,452.0L427.0,452.0 L427.0,451.7L428.0,451.7 L428.0,451.7L429.0,451.7 L429.0,451.9L430.0,451.9 L430.0,452.3L431.0,452.3 L431.0,452.0L432.0,452.0 L432.0,450.9L433.0,450.9 L433.0,452.4L434.0,452.4 L434.0,452.3L435.0,452.3 L435.0,451.8L436.0,451.8 L436.0,452.0L437.0,452.0 L437.0,452.0L438.0,452.0 L438.0,452.0L439.0,452.0 L439.0,453.3L440.0,453.3 L440.0,453.0L441.0,453.0 L441.0,452.5L442.0,452.5 L442.0,452.4L443.0,452.4 L443.0,452.1L444.0,452.1 L444.0,452.5L445.0,452.5 L445.0,452.9L446.0,452.9 L446.0,452.8L447.0,452.8 L447.0,453.0L448.0,453.0 L448.0,452.8L449.0,452.8 L449.0,452.7L450.0,452.7 L450.0,453.2L451.0,453.2 L451.0,453.3L452.0,453.3 L452.0,453.3L453.0,453.3 L453.0,452.7L454.0,452.7 L454.0,452.7L455.0,452.7 L455.0,452.8L456.0,452.8 L456.0,452.9L457.0,452.9 L457.0,452.9L458.0,452.9 L458.0,453.3L459.0,453.3 L459.0,453.1L460.0,453.1 L460.0,453.3L461.0,453.3 L461.0,453.3L462.0,453.3 L462.0,453.3L463.0,453.3 L463.0,453.2L464.0,453.2 L464.0,453.3L465.0,453.3 L465.0,453.3L466.0,453.3 L466.0,453.3L467.0,453.3 L467.0,453.1L468.0,453.1 L468.0,453.3L469.0,453.3 L469.0,453.3L470.0,453.3 L470.0,453.3L471.0,453.3 L471.0,453.3L472.0,453.3 L472.0,453.3L473.0,453.3 L473.0,453.3L474.0,453.3 L474.0,453.3L475.0,453.3 L475.0,453.3L476.0,453.3 L476.0,453.2L477.0,453.2 L477.0,453.3L478.0,453.3 L478.0,453.3L479.0,453.3 L479.0,453.3L480.0,453.3 L480.0,453.4L481.0,453.4 L481.0,453.4L482.0,453.4 L482.0,453.4L483.0,453.4 L483.0,453.5L484.0,453.5 L484.0,454.0L485.0,454.0 L484.5,454.0Z" fill="#404040"/>
<g fill="#2a2a2a">
<rect x="57.2" y="236" width="1.5" height="218.8"/>
<rect x="56.9" y="453.2" width="428" height="1.8"/>
<rect x="53.2" y="452.7" width="4.4" height="1.2"/>
<rect x="54.800000000000004" y="444.02" width="2.8" height="1.2"/>
<rect x="54.800000000000004" y="435.34" width="2.8" height="1.2"/>
<rect x="54.800000000000004" y="426.65999999999997" width="2.8" height="1.2"/>
<rect x="54.800000000000004" y="417.98" width="2.8" height="1.2"/>
<rect x="53.2" y="409.3" width="4.4" height="1.2"/>
<rect x="54.800000000000004" y="400.62" width="2.8" height="1.2"/>
<rect x="54.800000000000004" y="391.94" width="2.8" height="1.2"/>
<rect x="54.800000000000004" y="383.26" width="2.8" height="1.2"/>
<rect x="54.800000000000004" y="374.58" width="2.8" height="1.2"/>
<rect x="53.2" y="365.9" width="4.4" height="1.2"/>
<rect x="54.800000000000004" y="357.22" width="2.8" height="1.2"/>
<rect x="54.800000000000004" y="348.53999999999996" width="2.8" height="1.2"/>
<rect x="54.800000000000004" y="339.86" width="2.8" height="1.2"/>
<rect x="54.800000000000004" y="331.18" width="2.8" height="1.2"/>
<rect x="53.2" y="322.5" width="4.4" height="1.2"/>
<rect x="54.800000000000004" y="313.82" width="2.8" height="1.2"/>
<rect x="54.800000000000004" y="305.14" width="2.8" height="1.2"/>
<rect x="54.800000000000004" y="296.46" width="2.8" height="1.2"/>
<rect x="54.800000000000004" y="287.78" width="2.8" height="1.2"/>
<rect x="53.2" y="279.1" width="4.4" height="1.2"/>
<rect x="54.800000000000004" y="270.41999999999996" width="2.8" height="1.2"/>
<rect x="54.800000000000004" y="261.74" width="2.8" height="1.2"/>
<rect x="54.800000000000004" y="253.06000000000003" width="2.8" height="1.2"/>
<rect x="54.800000000000004" y="244.38000000000002" width="2.8" height="1.2"/>
<rect x="53.2" y="235.70000000000002" width="4.4" height="1.2"/>
<rect x="57.4" y="454" width="1.2" height="4.8"/>
<rect x="89.50969453821399" y="454" width="1.1" height="3.0"/>
<rect x="108.26341362764406" y="454" width="1.1" height="3.0"/>
<rect x="121.569389076428" y="454" width="1.1" height="3.0"/>
<rect x="131.890305461786" y="454" width="1.1" height="3.0"/>
<rect x="140.32310816585803" y="454" width="1.1" height="3.0"/>
<rect x="147.45294126151833" y="454" width="1.1" height="3.0"/>
<rect x="153.62908361464196" y="454" width="1.1" height="3.0"/>
<rect x="159.0768272552881" y="454" width="1.1" height="3.0"/>
<rect x="163.9" y="454" width="1.2" height="4.8"/>
<rect x="196.00969453821398" y="454" width="1.1" height="3.0"/>
<rect x="214.76341362764404" y="454" width="1.1" height="3.0"/>
<rect x="228.06938907642797" y="454" width="1.1" height="3.0"/>
<rect x="238.390305461786" y="454" width="1.1" height="3.0"/>
<rect x="246.82310816585803" y="454" width="1.1" height="3.0"/>
<rect x="253.95294126151833" y="454" width="1.1" height="3.0"/>
<rect x="260.12908361464196" y="454" width="1.1" height="3.0"/>
<rect x="265.5768272552881" y="454" width="1.1" height="3.0"/>
<rect x="270.4" y="454" width="1.2" height="4.8"/>
<rect x="302.509694538214" y="454" width="1.1" height="3.0"/>
<rect x="321.26341362764407" y="454" width="1.1" height="3.0"/>
<rect x="334.56938907642797" y="454" width="1.1" height="3.0"/>
<rect x="344.890305461786" y="454" width="1.1" height="3.0"/>
<rect x="353.32310816585806" y="454" width="1.1" height="3.0"/>
<rect x="360.45294126151833" y="454" width="1.1" height="3.0"/>
<rect x="366.62908361464196" y="454" width="1.1" height="3.0"/>
<rect x="372.0768272552881" y="454" width="1.1" height="3.0"/>
<rect x="376.9" y="454" width="1.2" height="4.8"/>
<rect x="409.009694538214" y="454" width="1.1" height="3.0"/>
<rect x="427.76341362764407" y="454" width="1.1" height="3.0"/>
<rect x="441.06938907642797" y="454" width="1.1" height="3.0"/>
<rect x="451.390305461786" y="454" width="1.1" height="3.0"/>
<rect x="459.82310816585806" y="454" width="1.1" height="3.0"/>
<rect x="466.95294126151833" y="454" width="1.1" height="3.0"/>
<rect x="473.12908361464196" y="454" width="1.1" height="3.0"/>
<rect x="478.5768272552881" y="454" width="1.1" height="3.0"/>
<rect x="483.4" y="454" width="1.2" height="4.8"/>
</g>
<text transform="translate(50.3,453.3) rotate(-90) scale(0.95,1)" font-size="9.6" text-anchor="middle" fill="#222" stroke="#222" stroke-width="0.22" >0</text>
<text transform="translate(50.3,409.90000000000003) rotate(-90) scale(0.95,1)" font-size="9.6" text-anchor="middle" fill="#222" stroke="#222" stroke-width="0.22" >40</text>
<text transform="translate(50.3,366.5) rotate(-90) scale(0.95,1)" font-size="9.6" text-anchor="middle" fill="#222" stroke="#222" stroke-width="0.22" >80</text>
<text transform="translate(50.3,323.1) rotate(-90) scale(0.95,1)" font-size="9.6" text-anchor="middle" fill="#222" stroke="#222" stroke-width="0.22" >120</text>
<text transform="translate(50.3,279.70000000000005) rotate(-90) scale(0.95,1)" font-size="9.6" text-anchor="middle" fill="#222" stroke="#222" stroke-width="0.22" >160</text>
<text transform="translate(50.3,236.3) rotate(-90) scale(0.95,1)" font-size="9.6" text-anchor="middle" fill="#222" stroke="#222" stroke-width="0.22" >200</text>
<text transform="translate(37.2,344.2) rotate(-90)" font-size="9.6" text-anchor="middle" fill="#222" stroke="#222" stroke-width="0.22" >counts</text>
<text transform="translate(273.3,351.2) scale(0.985,1)" font-size="17" text-anchor="start" fill="#111" stroke="#111" stroke-width="0.22" >2n</text>
<text transform="translate(300,385.5) scale(0.985,1)" font-size="17" text-anchor="start" fill="#111" stroke="#111" stroke-width="0.22" >4n</text>
<text transform="translate(322.3,340) scale(0.985,1)" font-size="17" text-anchor="start" fill="#111" stroke="#111" stroke-width="0.22" >8n</text>
<text transform="translate(337.8,260.6) scale(0.985,1)" font-size="17" text-anchor="start" fill="#111" stroke="#111" stroke-width="0.22" >16n</text>
<text transform="translate(390.3,339.9) scale(0.985,1)" font-size="17" text-anchor="start" fill="#111" stroke="#111" stroke-width="0.22" >32n</text>
<text transform="translate(414.6,439.1) scale(0.985,1)" font-size="17" text-anchor="start" fill="#111" stroke="#111" stroke-width="0.22" >64n</text>
<text transform="translate(302.8,319.6) scale(0.94,1)" font-size="17" text-anchor="start" fill="#111" stroke="#111" stroke-width="0.22" >R1</text>
<text transform="translate(402.2,278.8)" font-size="17" text-anchor="start" fill="#111" stroke="#111" stroke-width="0.22" >R2</text>
<g fill="#111">
<rect x="271.5" y="322.9" width="81" height="1.4"/>
<rect x="271.2" y="315" width="1.4" height="18"/>
<rect x="351.5" y="315" width="1.4" height="18"/>
<rect x="365" y="284.4" width="97.5" height="1.4"/>
<rect x="364.5" y="276.3" width="1.4" height="17"/>
<rect x="461.6" y="276.3" width="1.4" height="17"/>
</g>
<line x1="271.8" y1="329.4" x2="271.8" y2="627" stroke="#141414" stroke-width="1.35" stroke-dasharray="3.6,2.9"/>
<line x1="352.1" y1="329.4" x2="352.1" y2="627" stroke="#141414" stroke-width="1.35" stroke-dasharray="3.6,2.9"/>
<line x1="365.1" y1="293" x2="365.1" y2="627" stroke="#141414" stroke-width="1.35" stroke-dasharray="3.6,2.9"/>
<line x1="462.2" y1="293" x2="462.2" y2="627" stroke="#141414" stroke-width="1.35" stroke-dasharray="3.6,2.9"/>
<rect x="264.5" y="459.5" width="15" height="13" fill="#fff"/>
<text transform="translate(51.199999999999996,469.4) scale(0.89,1)" font-size="10.6" text-anchor="start" fill="#222" stroke="#222" stroke-width="0.22" >10<tspan dx="0.6" dy="-4.3" font-size="7.6">0</tspan></text>
<text transform="translate(157.9,469.4) scale(0.89,1)" font-size="10.6" text-anchor="start" fill="#222" stroke="#222" stroke-width="0.22" >10<tspan dx="0.6" dy="-4.3" font-size="7.6">1</tspan></text>
<text transform="translate(264.7,469.4) scale(0.89,1)" font-size="10.6" text-anchor="start" fill="#222" stroke="#222" stroke-width="0.22" >10<tspan dx="0.6" dy="-4.3" font-size="7.6">2</tspan></text>
<text transform="translate(371.6,469.4) scale(0.89,1)" font-size="10.6" text-anchor="start" fill="#222" stroke="#222" stroke-width="0.22" >10<tspan dx="0.6" dy="-4.3" font-size="7.6">3</tspan></text>
<text transform="translate(476.6,469.4) scale(0.89,1)" font-size="10.6" text-anchor="start" fill="#222" stroke="#222" stroke-width="0.22" >10<tspan dx="0.6" dy="-4.3" font-size="7.6">4</tspan></text>
<rect x="276" y="365" width="6.8" height="1.3" fill="#111"/>
<rect x="340" y="366.3" width="6.5" height="1.3" fill="#111"/>
<rect x="366" y="328.2" width="9.5" height="1.3" fill="#111"/>
<g fill="#000">
<rect x="262.1" y="495.2" width="2.6" height="135"/>
<rect x="262.1" y="627.6" width="202.2" height="2.6"/>
<rect x="258.3" y="495.2" width="4.5" height="2.2"/>
<rect x="258.3" y="528.1999999999999" width="4.5" height="2.2"/>
<rect x="258.3" y="561.3" width="4.5" height="2.2"/>
<rect x="258.3" y="594.4" width="4.5" height="2.2"/>
<rect x="258.3" y="627.6999999999999" width="4.5" height="2.2"/>
</g>
<text transform="translate(256.5,503.7) scale(0.945,1)" font-size="17.6" text-anchor="end" fill="#111" stroke="#111" stroke-width="0.22" >100</text>
<text transform="translate(256.5,536.6999999999999) scale(0.945,1)" font-size="17.6" text-anchor="end" fill="#111" stroke="#111" stroke-width="0.22" >75</text>
<text transform="translate(256.5,569.8) scale(0.945,1)" font-size="17.6" text-anchor="end" fill="#111" stroke="#111" stroke-width="0.22" >50</text>
<text transform="translate(256.5,602.9) scale(0.945,1)" font-size="17.6" text-anchor="end" fill="#111" stroke="#111" stroke-width="0.22" >25</text>
<text transform="translate(256.5,636.1999999999999) scale(0.945,1)" font-size="17.6" text-anchor="end" fill="#111" stroke="#111" stroke-width="0.22" >0</text>
<text transform="translate(206.5,620.9) rotate(-90) scale(1.072,1)" font-size="15.9" text-anchor="start" fill="#111" stroke="#111" stroke-width="0.22" >relative mRNA</text>
<text transform="translate(226.8,621.0) rotate(-90) scale(1.086,1)" font-size="15.9" text-anchor="start" fill="#111" stroke="#111" stroke-width="0.22" >expression (%)</text>
<rect x="284.6" y="496.3" width="21.19999999999999" height="132.3" fill="#000"/>
<rect x="322.8" y="496.3" width="21.599999999999966" height="132.3" fill="#b2b2b2"/>
<rect x="383.3" y="584.5" width="22.5" height="44.10000000000002" fill="#000"/>
<rect x="422.4" y="496.6" width="22.100000000000023" height="132.0" fill="#b2b2b2"/>
<text transform="translate(313.5,650.3) scale(0.98,1)" font-size="17" text-anchor="middle" fill="#111" stroke="#111" stroke-width="0.22" >R1</text>
<text transform="translate(413.2,650.3) scale(0.98,1)" font-size="17" text-anchor="middle" fill="#111" stroke="#111" stroke-width="0.22" >R2</text>
<text transform="translate(145.2,557.4) scale(1.075,1)" font-size="16.1" text-anchor="end" fill="#111" stroke="#111" stroke-width="0.22" >transgenic <tspan font-style="italic">Mpl</tspan></text>
<text transform="translate(145.2,581.6) scale(1.075,1)" font-size="16.1" text-anchor="end" fill="#111" stroke="#111" stroke-width="0.22" >endogenous <tspan font-style="italic">Mpl</tspan></text>
<rect x="149" y="547.5" width="27" height="10" fill="#000"/>
<rect x="149.4" y="572" width="26.2" height="10" fill="#b2b2b2" stroke="#8c8c8c" stroke-width="0.8"/>
</svg>
</body></html>
